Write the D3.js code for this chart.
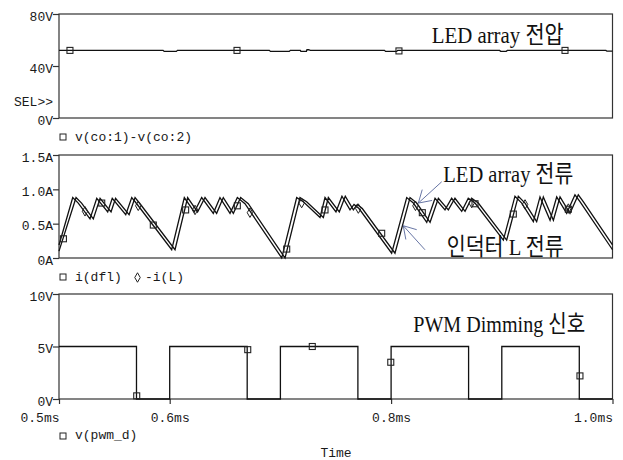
<!DOCTYPE html>
<html><head><meta charset="utf-8">
<script src="https://cdn.jsdelivr.net/npm/d3@7"></script>
<style>body{margin:0;background:#fff}svg{display:block}</style>
</head><body><svg id="c" width="623" height="460"></svg>
<script>
// ---------- DATA ----------
// Panel 1: v(co:1)-v(co:2)  (LED array voltage)
const voltT = [0.500,0.594,0.595,0.606,0.607,0.690,0.691,0.708,0.709,0.718,0.7185,0.7235,0.724,0.7255,0.727,0.794,0.795,0.805,0.806,0.898,0.899,0.904,0.905,0.994,0.995,1.000];
const voltV = [52,52,51.2,51.2,52,52,51.2,51.2,52,52,51.3,51.3,52.5,52.5,52,52,51.2,51.2,52,52,51.3,51.3,52,52,51.4,51.4];
const voltMarkT = [0.5099,0.6608,0.8071,0.9571];
const voltMarkV = [52,52,51.6,52];

// Panel 2: i(dfl) (LED array current) and -i(L) (inductor current)
const ledT = [0.500,0.5124,0.5174,0.5280,0.5341,0.5440,0.5481,0.5603,0.5657,0.5702,0.6018,0.6132,0.6222,0.6289,0.6394,0.6454,0.6545,0.6611,0.6680,0.7012,0.7147,0.7207,0.7358,0.7403,0.7502,0.7556,0.7629,0.7665,0.7710,0.8005,0.8141,0.8201,0.8322,0.8397,0.8487,0.8547,0.8638,0.8697,0.8758,0.9014,0.9119,0.9180,0.9285,0.9345,0.9436,0.9496,0.9586,0.9661,0.9706,1.000];
const ledI = [0.19,0.88,0.80,0.57,0.87,0.67,0.87,0.63,0.88,0.79,0.12,0.88,0.67,0.88,0.65,0.88,0.65,0.88,0.79,0.00,0.88,0.82,0.59,0.88,0.67,0.90,0.70,0.78,0.72,0.07,0.88,0.80,0.52,0.87,0.70,0.87,0.68,0.87,0.80,0.26,0.90,0.80,0.53,0.89,0.55,0.89,0.65,0.92,0.82,0.12];
const indT = [0.500,0.5154,0.5204,0.5310,0.5371,0.5470,0.5511,0.5633,0.5687,0.5732,0.6048,0.6162,0.6252,0.6319,0.6424,0.6484,0.6575,0.6641,0.6710,0.7042,0.7177,0.7237,0.7388,0.7433,0.7532,0.7586,0.7659,0.7695,0.7740,0.8035,0.8171,0.8231,0.8352,0.8427,0.8517,0.8577,0.8668,0.8727,0.8788,0.9044,0.9149,0.9210,0.9315,0.9375,0.9466,0.9526,0.9616,0.9691,0.9736,1.000];
const indI = [0.10,0.88,0.80,0.57,0.87,0.67,0.87,0.63,0.88,0.79,0.12,0.88,0.67,0.88,0.65,0.88,0.65,0.88,0.79,0.00,0.88,0.82,0.59,0.88,0.67,0.90,0.70,0.78,0.72,0.07,0.88,0.80,0.52,0.87,0.70,0.87,0.68,0.87,0.80,0.26,0.90,0.80,0.53,0.89,0.55,0.89,0.65,0.92,0.82,0.19];
const ledMarkT = [0.504,0.5386,0.5852,0.6144,0.6611,0.7057,0.7403,0.7915,0.8282,0.8758,0.9104,0.9601];
const ledMarkI = [0.28,0.80,0.48,0.70,0.76,0.13,0.70,0.36,0.66,0.79,0.64,0.71];
const indMarkT = [0.5235,0.5716,0.6229,0.6725,0.7192,0.7704,0.8220,0.8728,0.9210,0.9601];
const indMarkI = [0.68,0.76,0.70,0.66,0.80,0.72,0.76,0.80,0.78,0.72];

// Panel 3: v(pwm_d)  (PWM dimming signal)
const pwmT = [0.500,0.570,0.570,0.600,0.600,0.670,0.670,0.700,0.700,0.770,0.770,0.800,0.800,0.870,0.870,0.900,0.900,0.970,0.970,1.000];
const pwmV = [5,5,0,0,5,5,0,0,5,5,0,0,5,5,0,0,5,5,0,0];
const pwmMarkT = [0.5702,0.6705,0.7288,0.7997,0.9706];
const pwmMarkV = [0.3,4.7,5.0,3.5,2.2];

// Tick labels
const xTicks = [0.5,0.6,0.8,1.0];
const xTickLabels = ["0.5ms","0.6ms","0.8ms","1.0ms"];
const y1Ticks = [0,40,80], y1Labels = ["0V","40V","80V"];
const y2Ticks = [0,0.5,1.0,1.5], y2Labels = ["0A","0.5A","1.0A","1.5A"];
const y3Ticks = [0,5,10], y3Labels = ["0V","5V","10V"];

// ---------- DRAW ----------
const svg = d3.select("#c");
svg.append("rect").attr("width",623).attr("height",460).attr("fill","#fff");
const MONO = "'Liberation Mono','DejaVu Sans Mono',monospace";
const SERIF = "'Liberation Serif','Noto Sans CJK KR',serif";
const INK = "#1a1a1a";

const x = d3.scaleLinear().domain([0.5,1.0]).range([59,612.5]);
const y1 = d3.scaleLinear().domain([0,80]).range([118,14]);
const y2 = d3.scaleLinear().domain([0,1.5]).range([258,155]);
const y3 = d3.scaleLinear().domain([0,10]).range([399,294]);

function frame(y){
  const [b,t] = y.range();
  svg.append("rect").attr("x",x.range()[0]).attr("y",t)
    .attr("width",x.range()[1]-x.range()[0]).attr("height",b-t)
    .attr("fill","none").attr("stroke","#333").attr("stroke-width",1.2);
}
function leftAxis(y, ticks, labels){
  const g = svg.append("g").attr("transform",`translate(${x.range()[0]},0)`)
    .call(d3.axisLeft(y).tickValues(ticks).tickFormat((d,i)=>labels[i]).tickSize(6).tickPadding(0));
  g.select(".domain").remove();
  g.selectAll("line").attr("stroke","#333").attr("stroke-width",1.2);
  g.selectAll("text").attr("font-family",MONO).attr("font-size",13).attr("fill",INK).attr("dy","0.48em");
  return g;
}
[y1,y2,y3].forEach(frame);
leftAxis(y1,y1Ticks,y1Labels);
leftAxis(y2,y2Ticks,y2Labels);
leftAxis(y3,y3Ticks,y3Labels);
svg.append("text").attr("x",53).attr("y",106).attr("text-anchor","end")
  .attr("font-family",MONO).attr("font-size",13).attr("fill",INK).text("SEL>>");

// bottom axis
const gx = svg.append("g").attr("transform",`translate(0,${y3.range()[0]})`)
  .call(d3.axisBottom(x).tickValues(xTicks).tickFormat((d,i)=>xTickLabels[i]).tickSize(5).tickPadding(8.5));
gx.select(".domain").remove();
gx.selectAll("line").attr("stroke","#333").attr("stroke-width",1.2);
gx.selectAll("text").attr("font-family",MONO).attr("font-size",13).attr("fill",INK)
  .attr("text-anchor",(d,i)=> (i===0||i===xTicks.length-1) ? "end" : "middle");

// traces
function trace(T,V,y,w){
  const pts = T.map((t,i)=>[t,V[i]]);
  svg.append("path").datum(pts)
    .attr("d", d3.line().x(d=>x(d[0])).y(d=>y(d[1])))
    .attr("fill","none").attr("stroke","#111").attr("stroke-width",w||1.3).attr("stroke-linejoin","miter");
}
function squares(T,V,y){
  svg.append("g").selectAll("rect").data(T.map((t,i)=>[t,V[i]])).join("rect")
    .attr("x",d=>x(d[0])-3).attr("y",d=>y(d[1])-3).attr("width",6).attr("height",6)
    .attr("fill","none").attr("stroke","#222").attr("stroke-width",1.1);
}
function diamonds(T,V,y){
  svg.append("g").selectAll("path").data(T.map((t,i)=>[t,V[i]])).join("path")
    .attr("transform",d=>`translate(${x(d[0])},${y(d[1])})`)
    .attr("d",d3.symbol(d3.symbolDiamond,26)())
    .attr("fill","none").attr("stroke","#222").attr("stroke-width",1);
}

trace(voltT,voltV,y1,1.3);
squares(voltMarkT,voltMarkV,y1);

trace(indT,indI,y2,1.3);
trace(ledT,ledI,y2,1.3);
squares(ledMarkT,ledMarkI,y2);
diamonds(indMarkT,indMarkI,y2);

trace(pwmT,pwmV,y3,1.3);
squares(pwmMarkT,pwmMarkV,y3);

// legends
function legendSquare(px,py){
  svg.append("rect").attr("x",px).attr("y",py).attr("width",6).attr("height",6)
    .attr("fill","none").attr("stroke","#222").attr("stroke-width",1);
}
function mono(px,py,s,anchor){
  svg.append("text").attr("x",px).attr("y",py).attr("text-anchor",anchor||"start")
    .attr("font-family",MONO).attr("font-size",13).attr("fill",INK).text(s);
}
legendSquare(60,134); mono(75,141,"v(co:1)-v(co:2)");
legendSquare(60,274); mono(75,281,"i(dfl)");
svg.append("path").attr("transform","translate(137.5,277.5)").attr("d",d3.symbol(d3.symbolDiamond,26)())
  .attr("fill","none").attr("stroke","#222").attr("stroke-width",1);
mono(145,281,"-i(L)");
legendSquare(60,433); mono(75,439,"v(pwm_d)");
mono(336,457,"Time","middle");

// annotations (positioned in data units)
function note(t,v,y,s,len){
  svg.append("text").attr("x",x(t)).attr("y",y(v))
    .attr("font-family",SERIF).attr("font-size",24).attr("fill","#111")
    .attr("textLength",len).attr("lengthAdjust","spacingAndGlyphs").text(s);
}
note(0.8367,57.5,y1,"LED array 전압",132);
note(0.8472,1.11,y2,"LED array 전류",130);
note(0.8502,0.044,y2,"인덕터 L 전류",117);
note(0.8200,6.41,y3,"PWM Dimming 신호",172);

function arrow(t0,v0,t1,v1,y){
  const x0=x(t0),yy0=y(v0),x1=x(t1),yy1=y(v1);
  const col="#56659a";
  svg.append("line").attr("x1",x0).attr("y1",yy0).attr("x2",x1).attr("y2",yy1)
    .attr("stroke",col).attr("stroke-width",0.9);
  const ang=Math.atan2(yy0-yy1,x0-x1), L=14;
  [-0.55,0.55].forEach(a=>{
    svg.append("line").attr("x1",x1).attr("y1",yy1)
      .attr("x2",x1+L*Math.cos(ang+a)).attr("y2",yy1+L*Math.sin(ang+a))
      .attr("stroke",col).attr("stroke-width",0.9);
  });
}
arrow(0.8457,1.11,0.8246,0.80,y2);
arrow(0.8306,0.12,0.8110,0.47,y2);
</script></body></html>
